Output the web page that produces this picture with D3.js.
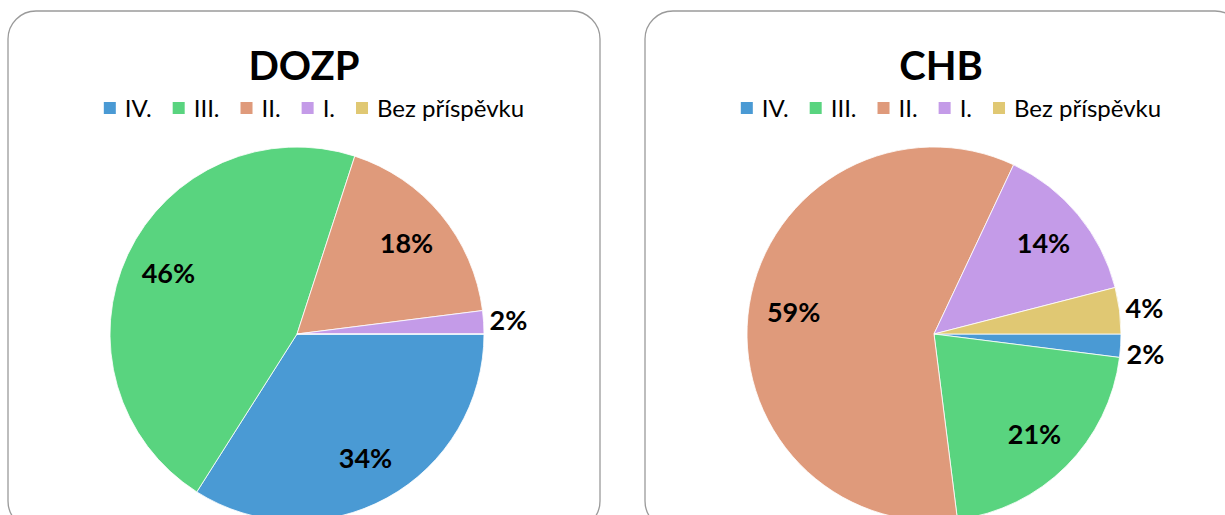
<!DOCTYPE html>
<html>
<head>
<meta charset="utf-8">
<script src="https://cdn.jsdelivr.net/npm/d3@7"></script>
<style>
    body { margin: 0; background: #fff; }
    svg { display: block; font-family: Lato, "Open Sans", sans-serif; }
</style>
</head>
<body>
<div id="chart"></div>
<script>
// data
var categories = ["IV.", "III.", "II.", "I.", "Bez příspěvku"];
var dozpValues = [34, 46, 18, 2, 0];
var chbValues = [2, 21, 59, 14, 4];
var chartTitles = ["DOZP", "CHB"];

var colors = ["#4a9ad4", "#59d47f", "#df9a7b", "#c49be8", "#e0c873"];

var W = 1225, H = 515;

var svg = d3.select("#chart")
    .append("svg")
    .attr("width", W)
    .attr("height", H);

var color = d3.scaleOrdinal()
    .domain(categories)
    .range(colors);

// panel boxes (rounded frames, cut off at the bottom / right)
var panels = [
    {x: 8, y: 11, w: 592, h: 518, values: dozpValues, title: chartTitles[0]},
    {x: 645, y: 11, w: 598, h: 518, values: chbValues, title: chartTitles[1]}
];

var radius = 187;

var pie = d3.pie()
    .sort(null)
    .value(function (d) { return d.value; })
    .startAngle(Math.PI / 2)
    .endAngle(Math.PI / 2 + 2 * Math.PI);

var arc = d3.arc().innerRadius(0).outerRadius(radius);
var labelArcIn = d3.arc().innerRadius(radius * 0.76).outerRadius(radius * 0.76);
var labelArcOut = d3.arc().innerRadius(radius + 6).outerRadius(radius + 6);

panels.forEach(function (p) {
    var g = svg.append("g");

    g.append("rect")
        .attr("x", p.x)
        .attr("y", p.y)
        .attr("width", p.w)
        .attr("height", p.h)
        .attr("rx", 28)
        .attr("ry", 28)
        .attr("fill", "#fff")
        .attr("stroke", "#9a9a9a")
        .attr("stroke-width", 1.3);

    var cx = p.x + 289;
    var mid = p.x + 296;

    // title
    g.append("text")
        .attr("x", mid)
        .attr("y", 80)
        .attr("text-anchor", "middle")
        .attr("font-size", "40px")
        .attr("font-weight", "bold")
        .attr("fill", "#000")
        .text(p.title);

    // legend, laid out from measured widths and centred
    var gap = 21;
    var legend = g.append("g");
    var xpos = 0;
    categories.forEach(function (c, i) {
        var item = legend.append("g").attr("transform", "translate(" + xpos + ",0)");
        item.append("rect")
            .attr("x", 0)
            .attr("y", -6)
            .attr("width", 12)
            .attr("height", 12)
            .attr("fill", color(c));
        var t = item.append("text")
            .attr("x", 21)
            .attr("y", 0)
            .attr("dy", "0.36em")
            .attr("font-size", "24px")
            .attr("fill", "#000")
            .text(c);
        xpos += 21 + t.node().getComputedTextLength() + gap;
    });
    var legendW = xpos - gap;
    legend.attr("transform", "translate(" + (mid + 10 - legendW / 2) + ",108)");

    // pie
    var data = categories.map(function (c, i) { return {key: c, value: p.values[i]}; });
    var arcs = pie(data);

    var pieG = g.append("g").attr("transform", "translate(" + cx + ",334)");
    pieG.selectAll("path")
        .data(arcs)
        .enter()
        .append("path")
        .attr("d", arc)
        .attr("fill", function (d) { return color(d.data.key); })
        .attr("stroke", "#fff")
        .attr("stroke-width", 0.8);

    // labels: big slices inside, small ones just outside the rim
    var labels = arcs.filter(function (d) { return d.data.value > 0; }).map(function (d) {
        var inside = d.data.value >= 10;
        var pos = (inside ? labelArcIn : labelArcOut).centroid(d);
        return {d: d, x: pos[0], y: pos[1], inside: inside};
    });
    // keep outside labels from overlapping
    var outside = labels.filter(function (l) { return !l.inside; })
        .sort(function (a, b) { return a.y - b.y; });
    for (var i = 1; i < outside.length; i++) {
        if (outside[i].y - outside[i - 1].y < 46) outside[i].y = outside[i - 1].y + 46;
    }

    pieG.selectAll(".lbl")
        .data(labels)
        .enter()
        .append("text")
        .attr("class", "lbl")
        .attr("x", function (l) { return l.x; })
        .attr("y", function (l) { return l.y; })
        .attr("dy", function (l) { return l.inside ? "0.36em" : "0.3em"; })
        .attr("text-anchor", function (l) { return l.inside ? "middle" : "start"; })
        .attr("font-size", "27px")
        .attr("font-weight", "bold")
        .attr("fill", "#000")
        .text(function (l) { return l.d.data.value + "%"; });
});
</script>
</body>
</html>
